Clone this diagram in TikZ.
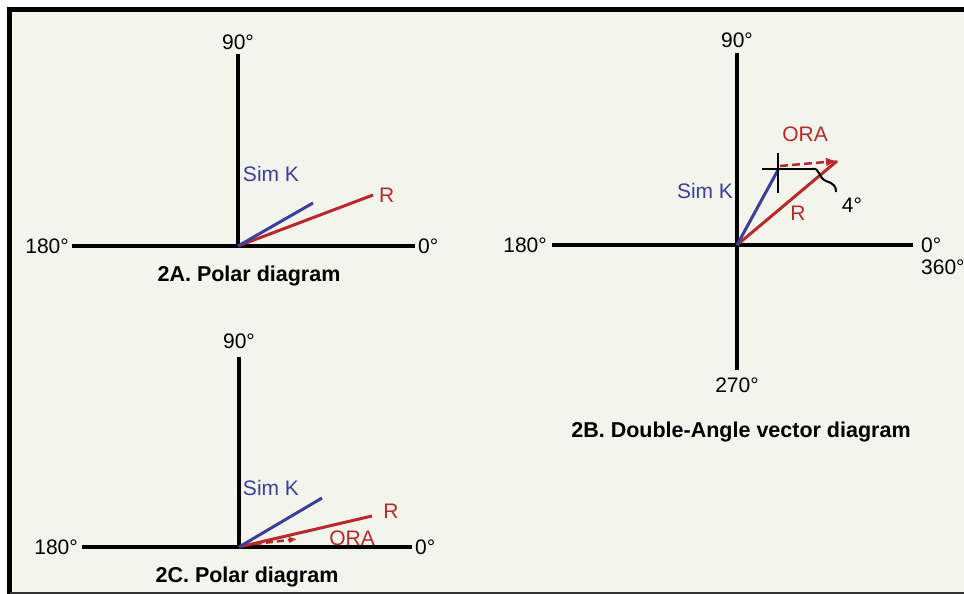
\documentclass[tikz,border=0pt]{standalone}
\usepackage{fontspec}
\setmainfont{Liberation Sans}
\usetikzlibrary{calc,arrows.meta,positioning}
\definecolor{simblue}{HTML}{3B3F9C}
\definecolor{resred}{HTML}{B8292B}
\definecolor{paper}{HTML}{F3F5EC}
\tikzset{
	axis/.style={line width=3.5pt,black},
	simk/.style={line width=3pt,simblue},
	res/.style={line width=3pt,resred},
	lab/.style={inner sep=0pt,font=\fontsize{21}{25}\selectfont},
	ttl/.style={inner sep=0pt,anchor=base,font=\fontsize{21.5}{25}\selectfont\bfseries},
}

\begin{document}
\begin{tikzpicture}[x=1pt,y=-1pt]
			\useasboundingbox (0,0) rectangle (964,594);
			\fill[white] (0,0) rectangle (964,594);
			\fill[paper] (10,10) rectangle (964,593);
			\draw[line width=5pt] (964,10)--(9.5,10)--(9.5,594);
			\draw[line width=2pt,black!80] (9.5,593)--(964,593);
			\coordinate (OA) at (238,246);
			\coordinate (NA) at (238,54);
			\coordinate (WA) at (72,246);
			\coordinate (EA) at (415,246);
			\coordinate (KA) at (313,203);
			\coordinate (RA) at (373,195);
			\draw[axis] (WA)--(EA);
			\draw[axis] (OA)--(NA);
			\draw[res] (OA)--(RA);
			\draw[simk] (OA)--(KA);
			\node[lab] (a90) at (NA) [above=4pt]{90°};
			\node[lab] (a180) at (WA) [left=3pt]{180°};
			\node[lab] (a0) at (EA) [right=3pt]{0°};
			\node[lab,simblue] (ask) at (271,174) {Sim K};
			\node[lab,resred] (ar) at (RA) [right=6pt]{R};
			\node[ttl] (atitle) at (249,281) {2A. Polar diagram};
			\coordinate (OB) at (737,245);
			\coordinate (NB) at (737,53);
			\coordinate (SB) at (737,370);
			\coordinate (WB) at (552,245);
			\coordinate (EB) at (913,245);
			\coordinate (KB) at (778,170);
			\coordinate (RB) at (837,161);
			\coordinate (DB) at (780,166);
			\coordinate (CT) at (778,153);
			\coordinate (CB) at (778,193);
			\coordinate (HL) at (762,169);
			\coordinate (HR) at (812,169);
			\coordinate (BT) at (836,192);
			\draw[axis] (WB)--(EB);
			\draw[axis] (NB)--(SB);
			\draw[res] (OB)--(RB);
			\draw[simk] (OB)--(KB);
			\draw[line width=2.5pt] (CT)--(CB);
			\draw[line width=2pt] (HL)--(HR);
			\draw[line width=2pt] (HR) .. controls (820,167) and (818,178) .. (826,181) .. controls (834,184) and (836,186) .. (BT);
			\draw[resred,line width=2.5pt,dash pattern=on 8pt off 4pt,-{Latex[length=11pt,width=9pt]}] (DB)--(RB);
			\node[lab] (b90) at (NB) [above=5pt]{90°};
			\node[lab] (b270) at (SB) [below=8pt]{270°};
			\node[lab] (b180) at (WB) [left=5pt]{180°};
			\node[lab] (b0) at (EB) [right=8pt]{0°};
			\node[lab,anchor=north west] (b360) at ($(b0.south west)+(0,7)$) {360°};
			\node[lab,simblue] (bsk) at (705,191) {Sim K};
			\node[lab,resred] (br) at (798,213) {R};
			\node[lab,resred] (bora) at (805,134) {ORA};
			\node[lab] (b4) at (852,205) {4°};
			\node[ttl] (btitle) at (741,437) {2B. Double-Angle vector diagram};
			\coordinate (OC) at (239,547);
			\coordinate (NC) at (239,357);
			\coordinate (WC) at (82,547);
			\coordinate (EC) at (412,547);
			\coordinate (KC) at (322,498);
			\coordinate (RC) at (372,516);
			\coordinate (AS) at (255,544);
			\coordinate (AE) at (297,539);
			\draw[axis] (WC)--(EC);
			\draw[axis] (OC)--(NC);
			\draw[res] (OC)--(RC);
			\draw[simk] (OC)--(KC);
			\draw[resred,line width=2.5pt,dash pattern=on 7pt off 4pt,-{Latex[length=8pt,width=7pt]}] (AS)--(AE);
			\node[lab] (c90) at (NC) [above=8pt]{90°};
			\node[lab] (c180) at (WC) [left=4pt]{180°};
			\node[lab] (c0) at (EC) [right=3pt]{0°};
			\node[lab,simblue] (csk) at (271,488) {Sim K};
			\node[lab,resred] (cr) at (391,511) {R};
			\node[lab,resred] (cora) at (352,538) {ORA};
			\node[ttl] (ctitle) at (247,582) {2C. Polar diagram};
		\end{tikzpicture}
\end{document}
